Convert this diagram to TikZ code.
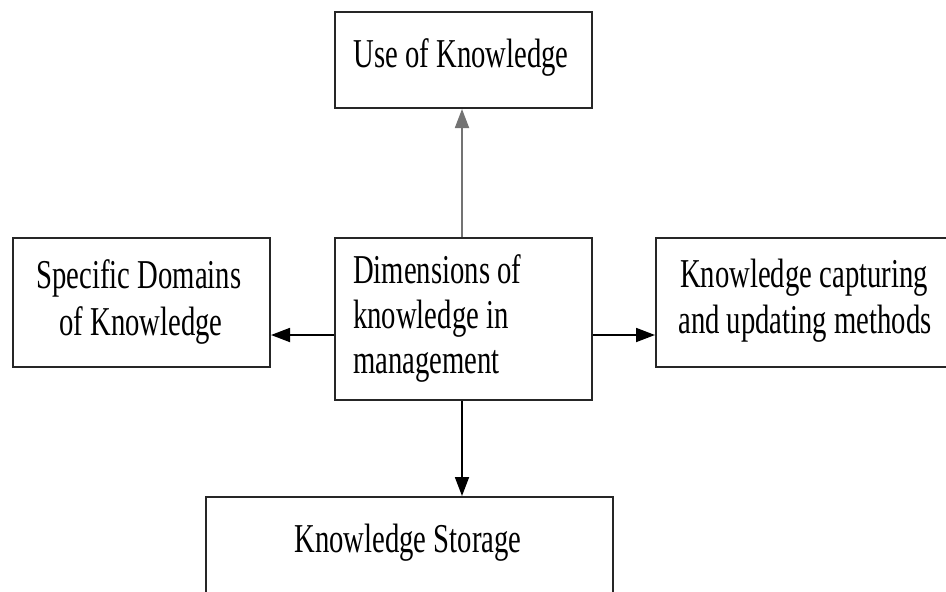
\documentclass[tikz,border=0pt]{standalone}
\usepackage{fontspec}
\newfontfamily\condserif[FakeStretch=0.70]{Liberation Serif}
\usetikzlibrary{arrows.meta}
\begin{document}
\begin{tikzpicture}[x=1pt,y=-1pt,
  boxst/.style={draw=black!85,line width=2pt,fill=white,inner sep=0pt},
  lbl/.style={anchor=base,inner sep=0pt,font=\condserif\fontsize{41}{46}\selectfont},
  lblw/.style={anchor=base west,inner sep=0pt,font=\condserif\fontsize{41}{46}\selectfont},
  arr/.style={line width=1.8pt,draw=black,-{Triangle[length=19pt,width=14pt]}}]
\useasboundingbox (0,0) rectangle (946,592);
\clip (0,0) rectangle (946,592);
\fill[white] (0,0) rectangle (946,592);
% boxes
\node[boxst,minimum width=257pt,minimum height=96pt] (use) at (463.5,60) {};
\node[boxst,minimum width=257pt,minimum height=162pt] (ctr) at (463.5,319) {};
\node[boxst,minimum width=257pt,minimum height=129pt] (lft) at (141.5,302.5) {};
\node[boxst,minimum width=310pt,minimum height=129pt] (rgt) at (811,302.5) {};
\node[boxst,minimum width=407pt,minimum height=120pt] (bot) at (409.5,557) {};
% texts
\node[lbl] (t1) at (461,67) {Use of Knowledge};
\node[lbl] (t2) at (139,288) {Specific Domains};
\node[lbl] (t3) at (141,335) {of Knowledge};
\node[lblw] (t4) at (353,283) {Dimensions of};
\node[lblw] (t5) at (353,328) {knowledge in};
\node[lblw] (t6) at (353,373) {management};
\node[lbl] (t7) at (804,287) {Knowledge capturing};
\node[lbl] (t8) at (805,333) {and updating methods};
\node[lbl] (t9) at (408,552) {Knowledge Storage};
% connectors
\draw[arr,draw=black!55] (ctr.north -| 462,0) -- (use.south -| 462,0);
\draw[arr] (ctr.west |- 0,335) -- (lft.east |- 0,335);
\draw[arr] (ctr.east |- 0,335) -- (rgt.west |- 0,335);
\draw[arr] (ctr.south -| 462,0) -- (bot.north -| 462,0);
\end{tikzpicture}
\end{document}
